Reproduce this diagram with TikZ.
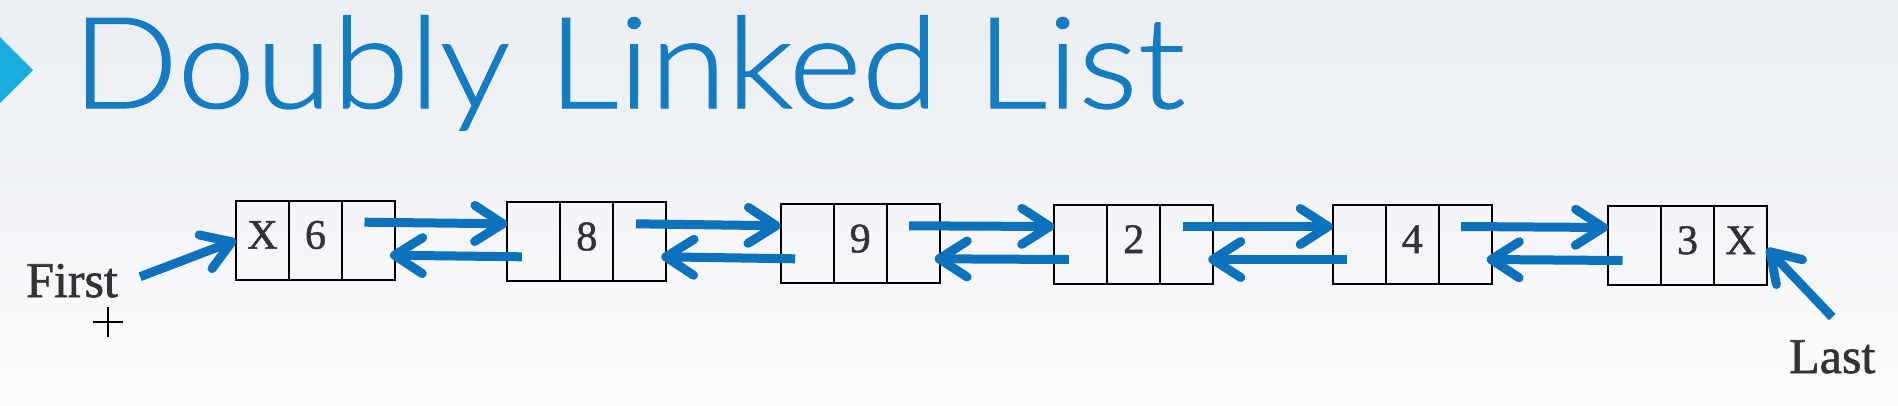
\documentclass[tikz,border=0pt]{standalone}
\usepackage{fontspec}
\setmainfont{Liberation Serif}
\newfontfamily\lblfont[FakeBold=1.2]{Liberation Serif}
\newfontfamily\titlefont[FakeStretch=1.1,FakeBold=1]{Lato Light}
\usetikzlibrary{positioning,arrows.meta}
\definecolor{linkblue}{RGB}{14,113,187}
\definecolor{titleblue}{RGB}{22,124,193}
\definecolor{markcyan}{RGB}{24,172,223}
\definecolor{textgray}{RGB}{50,50,52}
\definecolor{bgtop}{RGB}{234,237,242}
\definecolor{bgbot}{RGB}{251,252,253}
\begin{document}
\begin{tikzpicture}[x=1pt,y=-1pt,
  cell/.style={draw=black,line width=1.8pt,minimum width=53pt,minimum height=79pt,
    inner sep=0pt,outer sep=0pt,text height=27pt,text depth=10pt,text=textgray,
    font=\lblfont\fontsize{42}{42}\selectfont},
  link/.style={draw=linkblue,line width=9pt,-{Straight Barb[length=28pt,width=36pt,round]}},
  lbl/.style={text=textgray,inner sep=0pt,font=\lblfont\fontsize{50}{50}\selectfont}]
\shade[top color=bgtop,bottom color=bgbot](0,0) rectangle (1898,405);
\useasboundingbox (0,0) rectangle (1898,405);
\fill[markcyan](-5,32)--(33,70)--(-5,108)--cycle;
\node[anchor=base west,inner sep=0pt,text=titleblue,font=\titlefont\fontsize{127}{127}\selectfont] (title) at (72,108){Doubly Linked List};
% the six nodes
\node[cell] (n1b) at (315.5,240.2){6};
\node[cell,left=0pt of n1b] (n1a){X};
\node[cell,right=0pt of n1b] (n1c){};
\node[cell] (n2b) at (586.8,241.8){8};
\node[cell,left=0pt of n2b] (n2a){};
\node[cell,right=0pt of n2b] (n2c){};
\node[cell] (n3b) at (860.2,243.8){9};
\node[cell,left=0pt of n3b] (n3a){};
\node[cell,right=0pt of n3b] (n3c){};
\node[cell] (n4b) at (1133.8,244.5){2};
\node[cell,left=0pt of n4b] (n4a){};
\node[cell,right=0pt of n4b] (n4c){};
\node[cell] (n5b) at (1412.2,244.5){4};
\node[cell,left=0pt of n5b] (n5a){};
\node[cell,right=0pt of n5b] (n5c){};
\node[cell] (n6b) at (1687.5,245.5){3};
\node[cell,left=0pt of n6b] (n6a){};
\node[cell,right=0pt of n6b] (n6c){X};
% next and prev links
\draw[link]([xshift=-4pt,yshift=18pt]n1c.center)--([yshift=18pt]n2a.west);
\draw[link]([xshift=-12pt,yshift=-15pt]n2a.center)--([xshift=-5pt,yshift=-15pt]n1c.east);
\draw[link]([xshift=-4pt,yshift=18pt]n2c.center)--([yshift=18pt]n3a.west);
\draw[link]([xshift=-12pt,yshift=-15pt]n3a.center)--([xshift=-5pt,yshift=-15pt]n2c.east);
\draw[link]([xshift=-4pt,yshift=18pt]n3c.center)--([yshift=18pt]n4a.west);
\draw[link]([xshift=-12pt,yshift=-15pt]n4a.center)--([xshift=-5pt,yshift=-15pt]n3c.east);
\draw[link]([xshift=-4pt,yshift=18pt]n4c.center)--([yshift=18pt]n5a.west);
\draw[link]([xshift=-12pt,yshift=-15pt]n5a.center)--([xshift=-5pt,yshift=-15pt]n4c.east);
\draw[link]([xshift=-4pt,yshift=18pt]n5c.center)--([yshift=18pt]n6a.west);
\draw[link]([xshift=-12pt,yshift=-15pt]n6a.center)--([xshift=-5pt,yshift=-15pt]n5c.east);
% head and tail
\node[lbl,anchor=base west] (first) at (26,297){First};
\coordinate (cursor) at (108,322);
\draw[line width=1.6pt]([xshift=-15pt]cursor)--([xshift=15pt]cursor)
  ([yshift=-15pt]cursor)--([yshift=15pt]cursor);
\node[lbl,anchor=base west] (last) at (1789,373){Last};
\draw[link]([xshift=22pt,yshift=4pt]first.east)--(n1a.west);
\draw[link]([yshift=23pt]last.north)--([yshift=-3pt]n6c.east);
\end{tikzpicture}
\end{document}
